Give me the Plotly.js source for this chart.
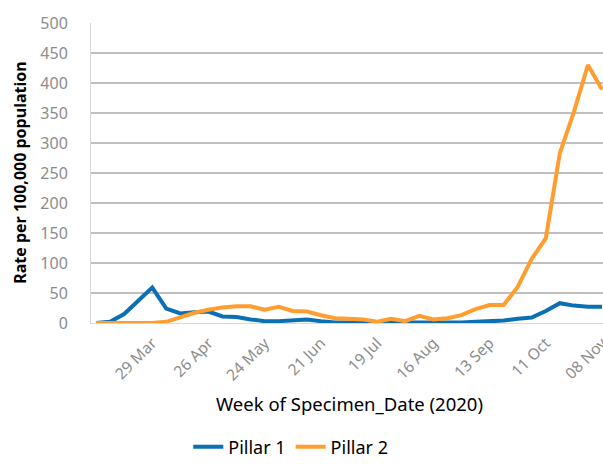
<!DOCTYPE html>
<html>
<head>
<meta charset="utf-8">
<script src="https://cdn.plot.ly/plotly-3.0.1.min.js"></script>
<style>html,body{margin:0;padding:0;background:#fff;}#chart{width:603px;height:464px;}</style>
</head>
<body>
<div id="chart"></div>
<script>
const weeks = ["2020-03-01","2020-03-08","2020-03-15","2020-03-22","2020-03-29","2020-04-05","2020-04-12","2020-04-19","2020-04-26","2020-05-03","2020-05-10","2020-05-17","2020-05-24","2020-05-31","2020-06-07","2020-06-14","2020-06-21","2020-06-28","2020-07-05","2020-07-12","2020-07-19","2020-07-26","2020-08-02","2020-08-09","2020-08-16","2020-08-23","2020-08-30","2020-09-06","2020-09-13","2020-09-20","2020-09-27","2020-10-04","2020-10-11","2020-10-18","2020-10-25","2020-11-01","2020-11-08"];
const pillar1 = [0,2,15,36,59,24,16,18,19,11,10,6,3,3,5,6,3,1,1,1,0,1,0,1,1,1,1,2,3,4,7,9,20,33,29,27,27];
const pillar2 = [0,0,0,0,0,2,10,17,22,26,28,28,22,27,20,19,13,8,7,6,2,7,3,12,6,8,13,23,30,30,60,107,141,283,352,430,389];
const tickDates = ["2020-03-29","2020-04-26","2020-05-24","2020-06-21","2020-07-19","2020-08-16","2020-09-13","2020-10-11","2020-11-08"];
const tickLabels = ["29 Mar","26 Apr","24 May","21 Jun","19 Jul","16 Aug","13 Sep","11 Oct","08 Nov"];
const seriesNames = ["Pillar 1","Pillar 2"];
const FONT = "Noto Sans, sans-serif";

const traces = [
  {x: weeks, y: pillar1, name: seriesNames[0], type: "scatter", mode: "lines",
   line: {color: "#0b6fb3", width: 4}},
  {x: weeks, y: pillar2, name: seriesNames[1], type: "scatter", mode: "lines",
   line: {color: "#ff9d2e", width: 4}}
];

const layout = {
  width: 603, height: 464,
  margin: {l: 91, r: 0, t: 23, b: 141, pad: 0, autoexpand: false},
  paper_bgcolor: "#ffffff", plot_bgcolor: "#ffffff",
  showlegend: true,
  legend: {orientation: "h", x: 0.19, xanchor: "left", y: -0.475, yanchor: "bottom",
           borderwidth: 0, bgcolor: "rgba(0,0,0,0)",
           font: {family: FONT, size: 18, color: "#000"}},
  font: {family: FONT},
  xaxis: {
    type: "date",
    range: ["2020-02-27 12:00", "2020-11-08 12:00"],
    tickvals: tickDates, ticktext: tickLabels, tickangle: -45,
    tickfont: {family: FONT, size: 15.5, color: "#8c8c8c"},
    ticklabeloverflow: "allow",
    showgrid: false, zeroline: false,
    showline: true, linecolor: "#d9d9d9", linewidth: 1,
    ticks: "", ticklabelstandoff: 4, automargin: false
  },
  yaxis: {
    range: [0, 500], dtick: 50, tick0: 0,
    tickfont: {family: FONT, size: 16, color: "#8c8c8c"},
    showgrid: true, gridcolor: "#bfbfbf", gridwidth: 1.5,
    zeroline: false, showline: true, linecolor: "#d9d9d9", linewidth: 1,
    ticks: "", ticklabelstandoff: 19, automargin: false
  },
  annotations: [
    {text: "Week of Specimen_Date (2020)", xref: "paper", yref: "paper", x: 0.505, y: -0.267,
     xanchor: "center", yanchor: "middle", showarrow: false,
     font: {family: FONT, size: 18.5, color: "#000"}},
    {text: "<b>Rate per 100,000 population</b>", xref: "paper", yref: "paper", x: -0.139, y: 0.5,
     textangle: -90, xanchor: "center", yanchor: "middle", showarrow: false,
     font: {family: FONT, size: 16, color: "#000"}}
  ]
};

Plotly.newPlot("chart", traces, layout, {displayModeBar: false, staticPlot: true});
</script>
</body>
</html>
